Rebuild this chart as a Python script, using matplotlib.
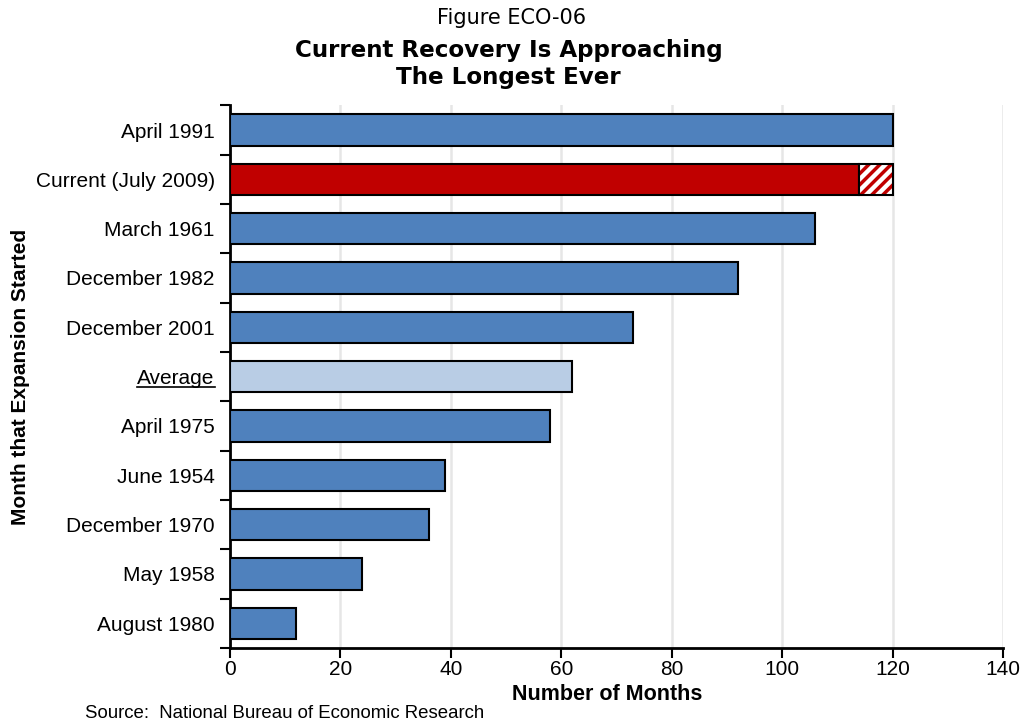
import matplotlib
matplotlib.use('Agg')
import matplotlib.pyplot as plt
from matplotlib.lines import Line2D

# data (top to bottom as in the chart)
labels = ['April 1991', 'Current (July 2009)', 'March 1961', 'December 1982',
          'December 2001', 'Average', 'April 1975', 'June 1954',
          'December 1970', 'May 1958', 'August 1980']
months = [120, 114, 106, 92, 73, 62, 58, 39, 36, 24, 12]
projected_extra = 6   # hatched part of the current expansion
xticks = [0, 20, 40, 60, 80, 100, 120, 140]

blue = '#4f81bd'
red = '#c00000'
light = '#b9cde5'

plt.rcParams['font.family'] = ['Liberation Sans', 'DejaVu Sans']
plt.rcParams['hatch.linewidth'] = 2.5

fig = plt.figure(figsize=(10.23, 7.24), dpi=100)
ax = fig.add_axes([0.2248, 0.105, 0.7557, 0.7495])

n = len(labels)
ypos = [n - 1 - i for i in range(n)]
colors = []
for lab in labels:
    if lab.startswith('Current'):
        colors.append(red)
    elif lab == 'Average':
        colors.append(light)
    else:
        colors.append(blue)

ax.barh(ypos, months, height=0.63, color=colors, edgecolor='black', linewidth=1.5, zorder=3)
cur = labels.index('Current (July 2009)')
# red hatch first, then a black outline over it
ax.barh(ypos[cur], projected_extra, left=months[cur], height=0.63, color='white',
        edgecolor=red, hatch='///', linewidth=0, zorder=3)
ax.barh(ypos[cur], projected_extra, left=months[cur], height=0.63, fill=False,
        edgecolor='black', linewidth=1.5, zorder=4)

ax.set_xlim(0, 140)
ax.set_ylim(-0.5, n - 0.5)
ax.set_xticks(xticks)
ax.set_yticks(ypos)
ax.set_yticklabels(labels, fontsize=15)
ax.set_yticks([y + 0.5 for y in range(-1, n)], minor=True)
ax.tick_params(axis='y', which='major', length=0, pad=11)
ax.tick_params(axis='y', which='minor', length=7, width=1.5, direction='out')
ax.tick_params(axis='x', labelsize=15, length=7, width=1.5, direction='out', pad=2)
ax.grid(axis='x', color='#e6e6e6', linewidth=1.8, zorder=0)

for s in ['top', 'right']:
    ax.spines[s].set_visible(False)
ax.spines['left'].set_linewidth(2)
ax.spines['bottom'].set_linewidth(2)

ax.set_xlabel('Number of Months', fontsize=15.5, fontweight='bold')
ax.xaxis.set_label_coords(0.488, -0.066)
ax.set_ylabel('Month that Expansion Started', fontsize=15, fontweight='bold', labelpad=4)

fig.text(0.5, 0.975, 'Figure ECO-06', ha='center', va='center', fontsize=15,
         family=['DejaVu Sans'])
fig.text(0.497, 0.912, 'Current Recovery Is Approaching\nThe Longest Ever', ha='center',
         va='center', fontsize=16.6, fontweight='bold', linespacing=1.22,
         family=['DejaVu Sans'])
fig.text(0.083, 0.015, 'Source:  National Bureau of Economic Research', fontsize=13.4,
         ha='left', va='center')

# underline the Average label
fig.canvas.draw()
renderer = fig.canvas.get_renderer()
for t in ax.get_yticklabels():
    if t.get_text() == 'Average':
        bb = t.get_window_extent(renderer).transformed(fig.transFigure.inverted())
        yline = bb.y0 + 0.001
        fig.add_artist(Line2D([bb.x0, bb.x1], [yline, yline], color='black', linewidth=1.2,
                              transform=fig.transFigure))

fig.savefig('out.png', dpi=100)
